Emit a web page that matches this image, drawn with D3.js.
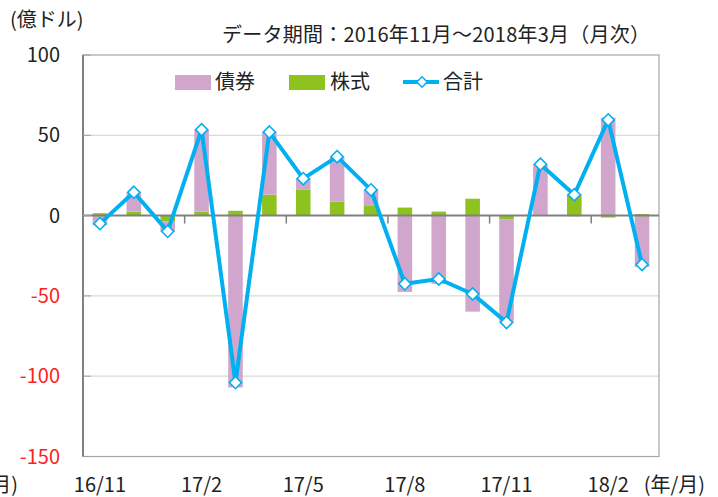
<!DOCTYPE html>
<html>
<head>
<meta charset="utf-8">
<script src="https://cdn.jsdelivr.net/npm/d3@7/dist/d3.min.js"></script>
<style>
  body { margin: 0; background: #fff; }
  svg { display: block; font-family: "Noto Sans CJK JP", "Noto Sans", sans-serif; }
</style>
</head>
<body>
<svg id="chart" width="718" height="497"></svg>
<script>
// months 2016/11 .. 2018/3
const months = ['16/11', '16/12', '17/1', '17/2', '17/3', '17/4', '17/5', '17/6', '17/7',
  '17/8', '17/9', '17/10', '17/11', '17/12', '18/1', '18/2', '18/3']
const xLabels = ['16/11', '17/2', '17/5', '17/8', '17/11', '18/2']

const bonds = [-6, 12, -6.3, 51, -107, 39, 7.5, 28, 10.3, -47.5, -42.5, -59.8, -64, 31.5, -0.5, 61, -32]
const stocks = [1.5, 2.5, -3.5, 2.5, 3, 13, 16, 8.7, 6, 5, 2.5, 10.5, -2.5, 0.5, 13.5, -1.2, 1]
const totals = [-5, 14.5, -9.8, 53.5, -104, 52, 23, 36.7, 16, -42.5, -39.5, -48.8, -66.5, 32, 13, 59.6, -30.5]

const yTicks = [100, 50, 0, -50, -100, -150]

const pink = '#d0a6cc'
const green = '#8dc21f'
const blue = '#00b0f0'

const svg = d3.select('#chart')
const m = { left: 83, right: 659, top: 55, bottom: 456.5 }

const x = d3.scaleBand().domain(months).range([m.left, m.right]).padding(0)
const y = d3.scaleLinear().domain([-150, 100]).range([m.bottom, m.top])

// grid
svg.append('g')
  .selectAll('line')
  .data(yTicks.filter(d => d !== 0 && d !== 100 && d !== -150))
  .enter().append('line')
  .attr('x1', m.left).attr('x2', m.right)
  .attr('y1', d => y(d)).attr('y2', d => y(d))
  .attr('stroke', '#d9d9d9').attr('stroke-width', 1.2)

// frame
svg.append('rect')
  .attr('x', m.left).attr('y', m.top)
  .attr('width', m.right - m.left).attr('height', m.bottom - m.top)
  .attr('fill', 'none').attr('stroke', '#a6a6a6').attr('stroke-width', 1.2)

// stacked bars, stock next to the axis
const rows = months.map((mo, i) => ({ month: mo, stock: stocks[i], bond: bonds[i] }))
const series = d3.stack().keys(['stock', 'bond']).offset(d3.stackOffsetDiverging)(rows)
const barW = x.bandwidth() * 0.43

svg.append('g')
  .selectAll('g')
  .data(series)
  .enter().append('g')
  .attr('fill', d => d.key === 'stock' ? green : pink)
  .selectAll('rect')
  .data(d => d)
  .enter().append('rect')
  .attr('x', d => x(d.data.month) + (x.bandwidth() - barW) / 2)
  .attr('width', barW)
  .attr('y', d => y(Math.max(d[0], d[1])))
  .attr('height', d => Math.abs(y(d[0]) - y(d[1])))

// left axis + zero line
svg.append('line')
  .attr('x1', m.left).attr('x2', m.left).attr('y1', m.top).attr('y2', m.bottom)
  .attr('stroke', '#808080').attr('stroke-width', 2)
svg.append('line')
  .attr('x1', m.left).attr('x2', m.right).attr('y1', y(0)).attr('y2', y(0))
  .attr('stroke', '#808080').attr('stroke-width', 2)

// small inward ticks on y, category ticks on x every 3 months
svg.append('g')
  .selectAll('line')
  .data(yTicks)
  .enter().append('line')
  .attr('x1', m.left).attr('x2', m.left + 8)
  .attr('y1', d => y(d)).attr('y2', d => y(d))
  .attr('stroke', '#a0a0a0').attr('stroke-width', 1)
svg.append('g')
  .selectAll('line')
  .data(months.filter((mo, i) => i > 0 && i % 3 === 0))
  .enter().append('line')
  .attr('x1', d => x(d)).attr('x2', d => x(d))
  .attr('y1', y(0)).attr('y2', y(0) + 8)
  .attr('stroke', '#808080').attr('stroke-width', 1.5)

// y tick labels
svg.append('g')
  .selectAll('text')
  .data(yTicks)
  .enter().append('text')
  .attr('x', 60).attr('y', d => y(d))
  .attr('dy', '0.35em')
  .attr('text-anchor', 'end')
  .attr('font-size', 20)
  .attr('fill', d => d < 0 ? '#ff2020' : '#222')
  .text(d => d)

// x labels
svg.append('g')
  .selectAll('text')
  .data(xLabels)
  .enter().append('text')
  .attr('x', d => x(d) + x.bandwidth() / 2)
  .attr('y', 485).attr('dy', '0.35em')
  .attr('text-anchor', 'middle')
  .attr('font-size', 20).attr('fill', '#222')
  .text(d => d)
svg.append('text')
  .attr('x', 705).attr('y', 485).attr('dy', '0.35em')
  .attr('text-anchor', 'end').attr('font-size', 20).attr('fill', '#222')
  .text('(年/月)')
svg.append('text')
  .attr('x', 18).attr('y', 485).attr('dy', '0.35em')
  .attr('text-anchor', 'end').attr('font-size', 20).attr('fill', '#222')
  .text('(年/月)')

// total line
const cx = (d, i) => x(months[i]) + x.bandwidth() / 2
svg.append('path')
  .datum(totals)
  .attr('fill', 'none')
  .attr('stroke', blue).attr('stroke-width', 4)
  .attr('stroke-linejoin', 'round')
  .attr('d', d3.line().x(cx).y(d => y(d)))

const diamond = d3.symbol().type(d3.symbolDiamond2).size(95)
svg.append('g')
  .selectAll('path')
  .data(totals)
  .enter().append('path')
  .attr('d', diamond)
  .attr('transform', (d, i) => 'translate(' + cx(d, i) + ',' + y(d) + ')')
  .attr('fill', '#fff').attr('stroke', blue).attr('stroke-width', 1.6)

// titles
svg.append('text')
  .attr('x', 10).attr('y', 20).attr('dy', '0.35em')
  .attr('font-size', 20).attr('fill', '#222')
  .text('(億ドル)')
svg.append('text')
  .attr('x', 222).attr('y', 35).attr('dy', '0.35em')
  .attr('font-size', 20).attr('fill', '#222')
  .attr('textLength', 428).attr('lengthAdjust', 'spacing')
  .text('データ期間：2016年11月〜2018年3月（月次）')

// legend
const legend = svg.append('g').attr('font-size', 20).attr('fill', '#222')
legend.append('rect').attr('x', 175).attr('y', 75).attr('width', 36).attr('height', 15).attr('fill', pink)
legend.append('text').attr('x', 215).attr('y', 82).attr('dy', '0.35em').text('債券')
legend.append('rect').attr('x', 289).attr('y', 75).attr('width', 36).attr('height', 15).attr('fill', green)
legend.append('text').attr('x', 330).attr('y', 82).attr('dy', '0.35em').text('株式')
legend.append('line').attr('x1', 403).attr('x2', 439).attr('y1', 82).attr('y2', 82)
  .attr('stroke', blue).attr('stroke-width', 4)
legend.append('path').attr('d', d3.symbol().type(d3.symbolDiamond2).size(70))
  .attr('transform', 'translate(422,82)')
  .attr('fill', '#fff').attr('stroke', blue).attr('stroke-width', 1.5)
legend.append('text').attr('x', 443).attr('y', 82).attr('dy', '0.35em').text('合計')
</script>
</body>
</html>
